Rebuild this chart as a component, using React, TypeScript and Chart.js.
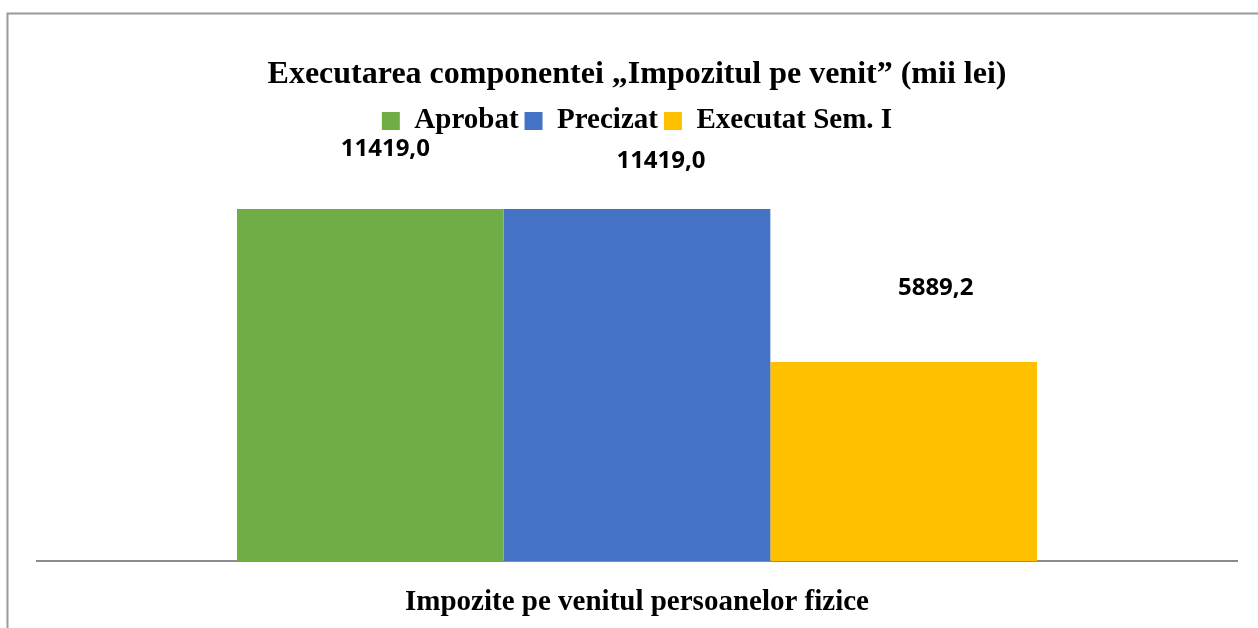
import React, { useEffect, useRef } from "react";
import { Chart, registerables } from "chart.js";

Chart.register(...registerables);

const titleText = "Executarea componentei „Impozitul pe venit” (mii lei)";
const categories = ["Impozite pe venitul persoanelor fizice"];
const seriesNames = ["Aprobat", "Precizat", "Executat Sem. I"];
const aprobat = [11419.0];
const precizat = [11419.0];
const executat = [5889.2];
const yMin = -1303;
const yMax = 13718;

const colors = ["#70AD47", "#4472C4", "#FFC000"];
const labelOffsets = [
  [15, -60],
  [24, -48],
  [32, -74],
];

const serif = "'Liberation Serif', 'Times New Roman', serif";

const frame = {
  id: "frame",
  beforeDraw(chart: any) {
    const ctx = chart.ctx;
    ctx.save();
    ctx.fillStyle = "#fff";
    ctx.fillRect(0, 0, chart.width, chart.height);
    ctx.strokeStyle = "#9a9a9a";
    ctx.lineWidth = 2;
    ctx.beginPath();
    ctx.moveTo(7.5, chart.height);
    ctx.lineTo(7.5, 13.5);
    ctx.lineTo(chart.width, 13.5);
    ctx.stroke();
    ctx.restore();
  },
};

const valueLabels = {
  id: "valueLabels",
  afterDatasetsDraw(chart: any) {
    const ctx = chart.ctx;
    ctx.save();
    ctx.font = "bold 24px 'Open Sans', sans-serif";
    ctx.fillStyle = "#000";
    ctx.textAlign = "center";
    ctx.textBaseline = "middle";
    chart.data.datasets.forEach((ds: any, i: number) => {
      const meta = chart.getDatasetMeta(i);
      meta.data.forEach((el: any, j: number) => {
        const v = ds.data[j] as number;
        const txt = v.toFixed(1).replace(".", ",");
        ctx.fillText(txt, el.x + labelOffsets[i][0], el.y + labelOffsets[i][1]);
      });
    });
    ctx.restore();
  },
};

export default function App() {
  const ref = useRef<HTMLCanvasElement | null>(null);
  useEffect(() => {
    if (!ref.current) return;
    const chart = new Chart(ref.current, {
      type: "bar",
      data: {
        labels: categories,
        datasets: [
          { label: seriesNames[0], data: aprobat, backgroundColor: colors[0], base: yMin },
          { label: seriesNames[1], data: precizat, backgroundColor: colors[1], base: yMin },
          { label: seriesNames[2], data: executat, backgroundColor: colors[2], base: yMin },
        ] as any,
      },
      options: {
        responsive: false,
        animation: false,
        layout: { padding: { left: 37, right: 21, top: 0, bottom: 0 } },
        datasets: { bar: { categoryPercentage: 2 / 3, barPercentage: 1 } },
        plugins: {
          title: {
            display: true,
            text: titleText,
            color: "#000",
            font: { family: serif, size: 32, weight: "bold" },
            padding: { top: 56, bottom: 6 },
          },
          legend: {
            display: true,
            position: "top",
            labels: {
              color: "#000",
              font: { family: serif, size: 29, weight: "bold" },
              boxWidth: 18,
              boxHeight: 18,
              padding: 6,
            },
          },
          tooltip: { enabled: false },
        },
        scales: {
          x: {
            grid: { display: false, drawTicks: false },
            border: { display: true, color: "#8c8c8c", width: 2 },
            ticks: {
              color: "#000",
              font: { family: serif, size: 29, weight: "bold" },
              padding: 24,
            },
            afterFit(scale: any) {
              scale.height = 67;
            },
          },
          y: { display: false, min: yMin, max: yMax },
        },
      },
      plugins: [frame, valueLabels],
    });
    return () => chart.destroy();
  }, []);
  return (
    <div style={{ position: "absolute", left: 0, top: 0, width: 1258, height: 628 }}>
      <canvas ref={ref} width={1258} height={628} />
    </div>
  );
}
